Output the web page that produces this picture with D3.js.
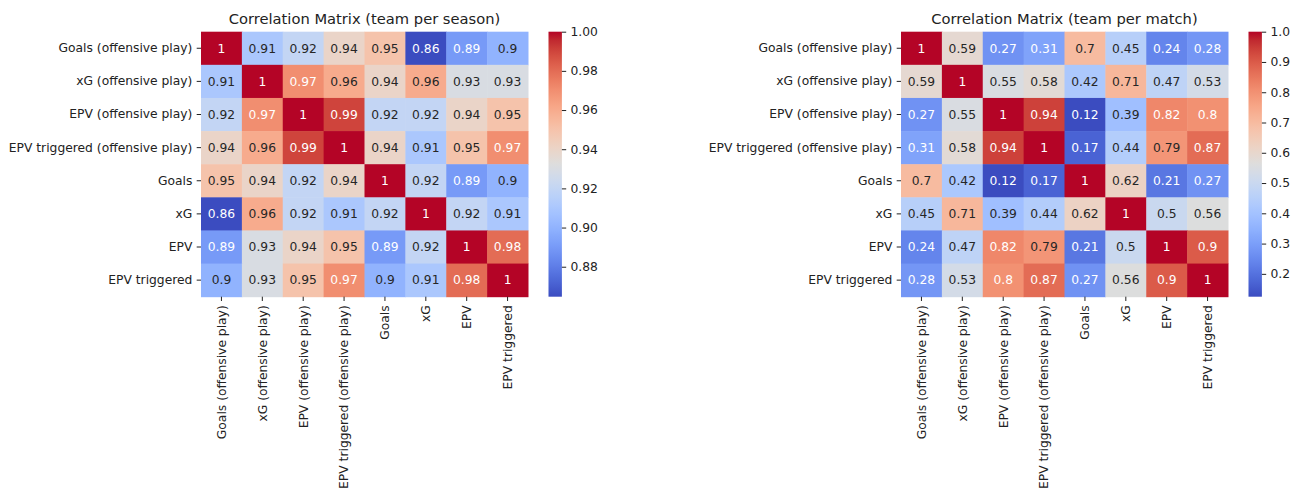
<!DOCTYPE html>
<html>
<head>
<meta charset="utf-8">
<script src="https://cdn.jsdelivr.net/npm/d3@7"></script>
<style>
  body { margin: 0; background: #fff; }
  svg text { font-family: "DejaVu Sans", sans-serif; fill: #222; }
</style>
</head>
<body>
<svg id="fig" width="1298" height="493"></svg>
<script>
// Metric names (rows and columns of both matrices)
const metrics = [
  "Goals (offensive play)",
  "xG (offensive play)",
  "EPV (offensive play)",
  "EPV triggered (offensive play)",
  "Goals",
  "xG",
  "EPV",
  "EPV triggered"
];

// Correlations, team per season
const seasonValues = [
  [1,    0.91, 0.92, 0.94, 0.95, 0.86, 0.89, 0.9 ],
  [0.91, 1,    0.97, 0.96, 0.94, 0.96, 0.93, 0.93],
  [0.92, 0.97, 1,    0.99, 0.92, 0.92, 0.94, 0.95],
  [0.94, 0.96, 0.99, 1,    0.94, 0.91, 0.95, 0.97],
  [0.95, 0.94, 0.92, 0.94, 1,    0.92, 0.89, 0.9 ],
  [0.86, 0.96, 0.92, 0.91, 0.92, 1,    0.92, 0.91],
  [0.89, 0.93, 0.94, 0.95, 0.89, 0.92, 1,    0.98],
  [0.9,  0.93, 0.95, 0.97, 0.9,  0.91, 0.98, 1   ]
];

// Correlations, team per match
const matchValues = [
  [1,    0.59, 0.27, 0.31, 0.7,  0.45, 0.24, 0.28],
  [0.59, 1,    0.55, 0.58, 0.42, 0.71, 0.47, 0.53],
  [0.27, 0.55, 1,    0.94, 0.12, 0.39, 0.82, 0.8 ],
  [0.31, 0.58, 0.94, 1,    0.17, 0.44, 0.79, 0.87],
  [0.7,  0.42, 0.12, 0.17, 1,    0.62, 0.21, 0.27],
  [0.45, 0.71, 0.39, 0.44, 0.62, 1,    0.5,  0.56],
  [0.24, 0.47, 0.82, 0.79, 0.21, 0.5,  1,    0.9 ],
  [0.28, 0.53, 0.8,  0.87, 0.27, 0.56, 0.9,  1   ]
];

// Colour-scale limits (unrounded min / max of each matrix)
const seasonRange = [0.8647, 1.0];
const matchRange  = [0.1245, 1.0];

// Colorbar tick labels
const seasonTicks = [0.88, 0.90, 0.92, 0.94, 0.96, 0.98, 1.00];
const matchTicks  = [0.2, 0.3, 0.4, 0.5, 0.6, 0.7, 0.8, 0.9, 1.0];

const seasonTitle = "Correlation Matrix (team per season)";
const matchTitle  = "Correlation Matrix (team per match)";

// Moreland "cool-warm" diverging colormap, 33 control points
const coolwarmStops = [
  [0.2298,0.2987,0.7537],[0.2662,0.3531,0.8015],[0.3039,0.4065,0.8450],[0.3428,0.4588,0.8837],
  [0.3830,0.5094,0.9174],[0.4244,0.5581,0.9456],[0.4667,0.6046,0.9682],[0.5096,0.6483,0.9848],
  [0.5530,0.6889,0.9954],[0.5963,0.7261,0.9998],[0.6392,0.7596,0.9982],[0.6813,0.7890,0.9904],
  [0.7222,0.8140,0.9766],[0.7615,0.8343,0.9569],[0.7987,0.8498,0.9317],[0.8335,0.8602,0.9011],
  [0.8654,0.8654,0.8654],[0.8978,0.8489,0.8209],[0.9241,0.8274,0.7745],[0.9445,0.8009,0.7267],
  [0.9589,0.7698,0.6780],[0.9673,0.7341,0.6288],[0.9700,0.6943,0.5794],[0.9668,0.6504,0.5303],
  [0.9580,0.6028,0.4818],[0.9437,0.5518,0.4342],[0.9239,0.4973,0.3880],[0.8990,0.4396,0.3432],
  [0.8692,0.3783,0.3003],[0.8346,0.3129,0.2593],[0.7956,0.2413,0.2205],[0.7525,0.1572,0.1841],
  [0.7057,0.0156,0.1502]
].map(c => d3.rgb(c[0] * 255, c[1] * 255, c[2] * 255));
const coolwarm = d3.piecewise(d3.interpolateRgb, coolwarmStops);

// Relative luminance, used to choose a readable annotation colour
function luminance(color) {
  const c = d3.rgb(color);
  const lin = v => { v /= 255; return v <= 0.03928 ? v / 12.92 : Math.pow((v + 0.055) / 1.055, 2.4); };
  return 0.2126 * lin(c.r) + 0.7152 * lin(c.g) + 0.0722 * lin(c.b);
}

const svg = d3.select("#fig");
const FONT = 12.3;
const TICK = 4.3, PAD = 4.3;
const mapW = 327, mapH = 265;
const mapTop = 31.7;
const cbGap = 20.5, cbW = 13.4;

function drawPanel(id, left, title, values, range, ticks, fmt) {
  const g = svg.append("g").attr("id", id).attr("transform", `translate(${left},${mapTop})`);

  const x = d3.scaleBand().domain(metrics).range([0, mapW]).padding(0);
  const y = d3.scaleBand().domain(metrics).range([0, mapH]).padding(0);
  const color = d3.scaleSequential(coolwarm).domain(range).clamp(true);

  const cells = [];
  values.forEach((row, i) => row.forEach((v, j) => cells.push({ r: metrics[i], c: metrics[j], v })));

  g.append("g").selectAll("rect").data(cells).join("rect")
    .attr("x", d => x(d.c))
    .attr("y", d => y(d.r))
    .attr("width", x.bandwidth() + 0.5)
    .attr("height", y.bandwidth() + 0.5)
    .attr("fill", d => color(d.v));

  const annFmt = d3.format(".2~g");
  g.append("g").selectAll("text").data(cells).join("text")
    .attr("x", d => x(d.c) + x.bandwidth() / 2)
    .attr("y", d => y(d.r) + y.bandwidth() / 2)
    .attr("dy", "0.35em")
    .attr("text-anchor", "middle")
    .style("font-size", FONT + "px")
    .style("fill", d => luminance(color(d.v)) > 0.408 ? "#262626" : "#ffffff")
    .text(d => annFmt(d.v));

  // Row labels
  const yAxis = g.append("g")
    .call(d3.axisLeft(y).tickSize(TICK).tickPadding(PAD));
  yAxis.select(".domain").remove();
  yAxis.selectAll(".tick line").attr("stroke", "#222");
  yAxis.selectAll(".tick text").style("font-size", FONT + "px").attr("fill", null);

  // Column labels, rotated
  const xAxis = g.append("g").attr("transform", `translate(0,${mapH})`)
    .call(d3.axisBottom(x).tickSize(TICK).tickPadding(PAD));
  xAxis.select(".domain").remove();
  xAxis.selectAll(".tick line").attr("stroke", "#222");
  xAxis.selectAll(".tick text")
    .style("font-size", FONT + "px")
    .attr("fill", null)
    .attr("transform", "rotate(-90)")
    .attr("x", -(TICK + PAD))
    .attr("y", 0)
    .attr("dy", "0.35em")
    .attr("text-anchor", "end");

  // Title
  g.append("text")
    .attr("x", mapW / 2)
    .attr("y", -7.7)
    .attr("text-anchor", "middle")
    .style("font-size", "14.7px")
    .text(title);

  // Colorbar
  const cbX = mapW + cbGap;
  const cb = g.append("g").attr("transform", `translate(${cbX},0)`);
  const gradId = id + "-grad";
  const grad = svg.append("defs").append("linearGradient")
    .attr("id", gradId).attr("x1", 0).attr("y1", 1).attr("x2", 0).attr("y2", 0);
  d3.range(0, 1.0001, 1 / 64).forEach(t => {
    grad.append("stop").attr("offset", t).attr("stop-color", coolwarm(t));
  });
  cb.append("rect").attr("width", cbW).attr("height", mapH).attr("fill", `url(#${gradId})`);

  const cbScale = d3.scaleLinear().domain(range).range([mapH, 0]);
  const cbAxis = cb.append("g").attr("transform", `translate(${cbW},0)`)
    .call(d3.axisRight(cbScale).tickValues(ticks).tickFormat(d3.format(fmt)).tickSize(TICK).tickPadding(PAD));
  cbAxis.select(".domain").remove();
  cbAxis.selectAll(".tick line").attr("stroke", "#222");
  cbAxis.selectAll(".tick text").style("font-size", FONT + "px").attr("fill", null);
}

drawPanel("season", 201, seasonTitle, seasonValues, seasonRange, seasonTicks, ".2f");
drawPanel("match", 901, matchTitle, matchValues, matchRange, matchTicks, ".1f");
</script>
</body>
</html>
